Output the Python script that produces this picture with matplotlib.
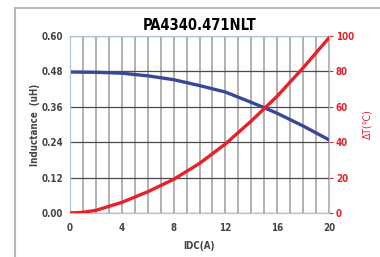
import numpy as np
import matplotlib.pyplot as plt
from matplotlib.patches import Rectangle

plt.rcParams['font.family'] = ['DejaVu Sans', 'Noto Sans CJK SC']
plt.rcParams['font.stretch'] = 'condensed'

# datos
idc = [0, 2, 4, 6, 8, 10, 12, 14, 15, 16, 18, 20]
inductancia = [0.478, 0.477, 0.474, 0.465, 0.452, 0.432, 0.410, 0.375, 0.357, 0.338, 0.295, 0.248]
idc_t = [0, 1, 2, 4, 6, 8, 10, 12, 14, 16, 18, 20]
delta_t = [0, 0.4, 1.5, 6, 12, 19, 28, 39, 52, 66, 82, 99]

azul = '#384898'
rojo = '#e8202a'
gris = '#444444'

fig = plt.figure(figsize=(3.8, 2.57), dpi=100)
fig.patches.append(Rectangle((15 / 380, -0.1), 1.2, 1 - 8 / 257 + 0.1, transform=fig.transFigure,
                             fill=False, edgecolor='#b8b8b8', linewidth=1.5))

ax = fig.add_axes([70 / 380, 1 - 213 / 257, 259 / 380, 177 / 257])
ax.set_xlim(0, 20)
ax.set_ylim(0, 0.6)
ax.set_xticks(range(0, 21, 4))
ax.set_xticks(range(0, 21, 1), minor=True)
ax.set_yticks(np.arange(0, 0.61, 0.12))
ax.set_yticklabels(['%.2f' % v for v in np.arange(0, 0.61, 0.12)])
ax.grid(True, which='minor', axis='x', color='#9c9c9c', linewidth=1.1)
ax.grid(True, which='major', axis='x', color='#9c9c9c', linewidth=1.1)
ax.grid(True, which='major', axis='y', color='#4a4a4a', linewidth=0.9)
ax.tick_params(which='both', length=0, labelsize=7, colors=gris, pad=5)
ax.tick_params(axis='x', pad=7)
for s in ax.spines.values():
    s.set_color('#b4c4d4')
ax.plot(idc, inductancia, color=azul, linewidth=2.4, zorder=3)
ax.set_ylabel('Inductance  (uH)', fontsize=7, fontweight='bold', color=gris, labelpad=1)
ax.set_xlabel('IDC(A)', fontsize=7, fontweight='bold', color=gris, labelpad=6)
for t in ax.get_xticklabels() + ax.get_yticklabels():
    t.set_fontweight('bold')

ax2 = ax.twinx()
ax2.set_ylim(0, 100)
ax2.set_yticks(range(0, 101, 20))
ax2.tick_params(axis='y', length=3, labelsize=7, colors=rojo, pad=2)
for t in ax2.get_yticklabels():
    t.set_fontweight('bold')
for s in ax2.spines.values():
    s.set_color('#b4c4d4')
ax2.plot(idc_t, delta_t, color=rojo, linewidth=2.4, zorder=3)
ax2.set_ylabel('ΔT(℃)', fontsize=7.5, color=rojo, rotation=90, labelpad=6)

fig.text(0.525, 1 - 25 / 257, 'PA4340.471NLT', ha='center', va='center', fontsize=10.5,
         fontweight='heavy')

fig.savefig('out.png', dpi=100)
